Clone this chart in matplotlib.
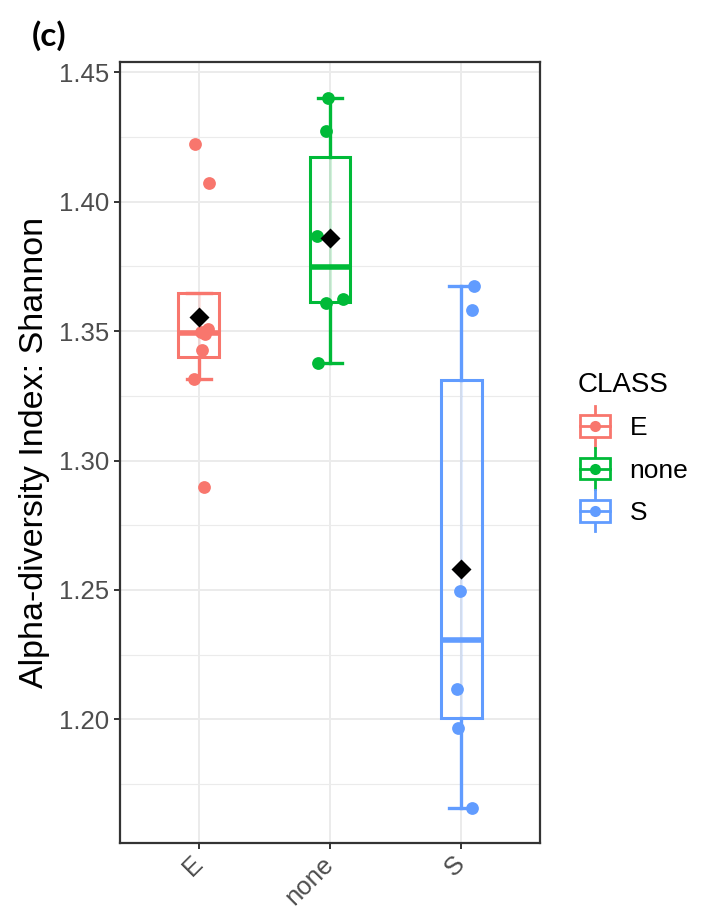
import numpy as np
import matplotlib
matplotlib.use('Agg')
import matplotlib.pyplot as plt
import matplotlib.transforms as mtransforms
from matplotlib.lines import Line2D
from matplotlib.patches import Rectangle
from matplotlib.legend_handler import HandlerBase

plt.rcParams['font.family'] = ['Liberation Sans', 'DejaVu Sans']

# ---- data ----
categories = ['E', 'none', 'S']
colors = ['#F8766D', '#00BA38', '#619CFF']
shannon_E = [1.4223, 1.4072, 1.3508, 1.3498, 1.3490, 1.3426, 1.3315, 1.2898]
shannon_none = [1.4403, 1.4275, 1.3869, 1.3626, 1.3607, 1.3377]
shannon_S = [1.3673, 1.3581, 1.2495, 1.2116, 1.1966, 1.1659]
jitter_E = [-0.026, 0.079, 0.070, 0.020, 0.050, 0.025, -0.038, 0.043]
jitter_none = [-0.015, -0.028, -0.097, 0.102, -0.031, -0.089]
jitter_S = [0.097, 0.082, -0.008, -0.035, -0.027, 0.079]
y_ticks = [1.20, 1.25, 1.30, 1.35, 1.40, 1.45]
y_label = 'Alpha-diversity Index: Shannon'
legend_title = 'CLASS'
panel_tag = '(c)'

groups = [shannon_E, shannon_none, shannon_S]
jitters = [jitter_E, jitter_none, jitter_S]
positions = np.arange(1, len(categories) + 1)

fig = plt.figure(figsize=(7.03, 9.13), dpi=100)
ax = fig.add_axes([120 / 703, 1 - 843 / 913, 420 / 703, 781 / 913])

# grid
ax.set_axisbelow(True)
ax.set_yticks(y_ticks)
ax.set_yticks([t + 0.025 for t in [1.15] + y_ticks[:-1]], minor=True)
ax.grid(True, which='major', color='#EBEBEB', lw=1.4, zorder=0)
ax.grid(True, which='minor', axis='y', color='#EBEBEB', lw=0.8, zorder=0)

# faint line inside the box (errorbar line beneath)
for pos, vals, col in zip(positions, groups, colors):
    q1, q3 = np.percentile(vals, [25, 75])
    ax.vlines(pos, q1, q3, color=col, alpha=0.18, lw=2.2, zorder=3.5)

for pos, vals, col in zip(positions, groups, colors):
    ax.boxplot([vals], positions=[pos], widths=0.31, showfliers=False,
               patch_artist=True, capwidths=0.18, manage_ticks=False,
               boxprops=dict(facecolor='none', edgecolor=col, lw=2.2),
               medianprops=dict(color=col, lw=4.0),
               whiskerprops=dict(color=col, lw=2.4),
               capprops=dict(color=col, lw=2.4), zorder=3)

for pos, vals, jit, col in zip(positions, groups, jitters, colors):
    ax.plot(pos + np.array(jit), vals, 'o', color=col, ms=9.2, mec='none', zorder=4)
    ax.plot([pos], [np.mean(vals)], 'D', color='black', ms=10.5, mec='none', zorder=5)

allv = np.concatenate(groups)
lo, hi = allv.min(), allv.max()
pad = 0.05 * (hi - lo)
ax.set_ylim(lo - pad, hi + pad)
ax.set_xlim(0.4, len(categories) + 0.6)
ax.set_xticks(positions)
ax.set_xticklabels(categories, rotation=45, ha='right', va='center',
                   rotation_mode='anchor')
off = mtransforms.ScaledTranslation(9 / 100, -7 / 100, fig.dpi_scale_trans)
for lab in ax.get_xticklabels():
    lab.set_transform(lab.get_transform() + off)
ax.set_yticklabels(['%.2f' % t for t in y_ticks])
ax.tick_params(axis='both', which='major', labelsize=18.5, labelcolor='#4D4D4D',
               color='#333333', length=4.5, width=1.4)
ax.tick_params(axis='y', which='minor', length=0)
ax.tick_params(axis='x', pad=8)
for s in ax.spines.values():
    s.set_color('#333333')
    s.set_linewidth(1.6)
ax.set_ylabel(y_label, fontsize=24.5, labelpad=6, color='black')

# legend with boxplot-style keys
class BoxKeyHandler(HandlerBase):
    def create_artists(self, legend, orig_handle, xdescent, ydescent,
                       width, height, fontsize, trans):
        c = orig_handle.get_color()
        x0, y0 = -xdescent, -ydescent
        cx, cy = x0 + width / 2, y0 + height / 2
        arts = []
        arts.append(Line2D([cx, cx], [y0 - 0.45 * height, y0 + 1.45 * height],
                           color=c, lw=2.0, transform=trans))
        arts.append(Rectangle((x0 + 0.06 * width, y0), 0.88 * width, height,
                              facecolor='white', edgecolor=c, lw=2.0, transform=trans))
        arts.append(Line2D([x0 + 0.06 * width, x0 + 0.94 * width], [cy, cy],
                           color=c, lw=2.0, transform=trans))
        arts.append(Line2D([cx], [cy], marker='o', ms=8, color=c, mec='none',
                           transform=trans))
        return arts

handles = [Line2D([], [], color=c) for c in colors]
leg = fig.legend(handles, categories, title=legend_title,
                 handler_map={Line2D: BoxKeyHandler()},
                 loc='upper left', bbox_to_anchor=(578 / 703, 1 - 372 / 913),
                 frameon=False, fontsize=19, title_fontsize=20,
                 handlelength=1.3, handleheight=0.88, handletextpad=0.65,
                 labelspacing=0.66, borderpad=0, borderaxespad=0,
                 alignment='left')

fig.text(32 / 703, 1 - 36 / 913, panel_tag, fontsize=24, fontweight='bold',
         family=['Lato', 'DejaVu Sans'], ha='left', va='center')

fig.savefig('out.png', dpi=100)
